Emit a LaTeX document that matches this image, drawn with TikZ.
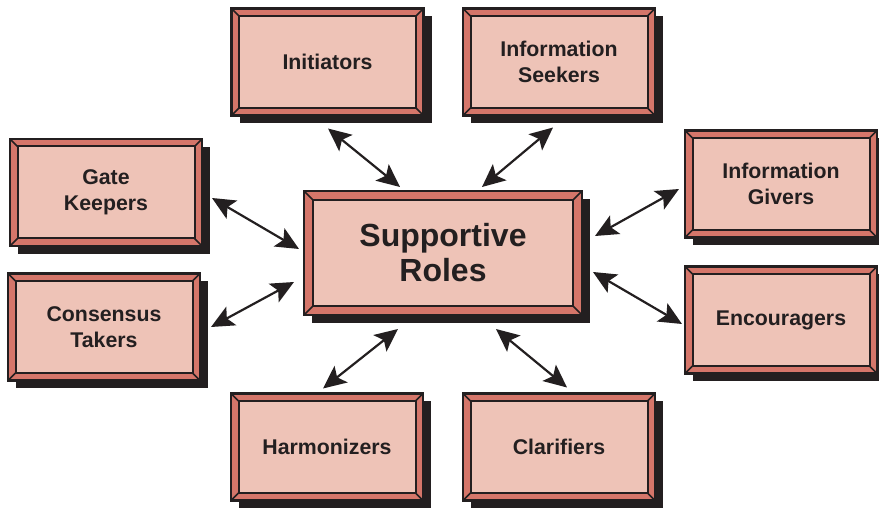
\documentclass[tikz,border=0pt]{standalone}
\usepackage{fontspec}
\setmainfont{Liberation Sans}
\usetikzlibrary{arrows.meta,calc,backgrounds}
\definecolor{bevel}{HTML}{D5766A}
\definecolor{face}{HTML}{EEC3B7}
\definecolor{ink}{HTML}{231F20}
\newcommand\bevw{7.5pt}
\tikzset{
  bevwidth/.code={\renewcommand\bevw{#1}},
  role/.style={rectangle, draw=ink, fill=bevel, line width=2.2pt, outer sep=0pt,
    inner sep=0pt, minimum width=192pt, minimum height=107pt, align=center,
    text=ink, font=\bfseries\fontsize{21.3}{25.5}\selectfont,
    path picture={
      \path[fill=face, draw=ink, line width=2pt]
        ([shift={(\bevw,\bevw)}]path picture bounding box.south west) rectangle
        ([shift={(-\bevw,-\bevw)}]path picture bounding box.north east);
      \draw[ink, line width=1.6pt]
        (path picture bounding box.south west) -- ++(\bevw,\bevw)
        (path picture bounding box.south east) -- ++(-\bevw,\bevw)
        (path picture bounding box.north west) -- ++(\bevw,-\bevw)
        (path picture bounding box.north east) -- ++(-\bevw,-\bevw);
    }},
  hub/.style={role, minimum width=278pt, minimum height=124pt, bevwidth=9pt,
    font=\bfseries\fontsize{32}{35}\selectfont},
  shadowbox/.style={fill=ink},
  arr/.style={{Stealth[length=23pt,width=21pt,inset=5pt]}-{Stealth[length=23pt,width=21pt,inset=5pt]},
    line width=2.2pt, draw=ink},
}
\begin{document}
\begin{tikzpicture}[x=1pt,y=-1pt]
\useasboundingbox (0,0) rectangle (879,510);
\node[role] (init) at (327.5,62) {Initiators};
\node[role] (seek) at (559,62) {Information\\Seekers};
\node[role] (gate) at (106,192.5) {Gate\\Keepers};
\node[role] (cons) at (104,327) {Consensus\\Takers};
\node[role] (givers) at (781,184) {Information\\Givers};
\node[role] (enc) at (781,320) {Encouragers};
\node[role] (harm) at (327,447) {Harmonizers};
\node[role] (clar) at (559,447) {Clarifiers};
\node[hub] (sup) at (443,253) {Supportive\\Roles};
\begin{scope}[on background layer]
  \foreach \n in {init,seek,gate,cons,givers,enc,harm,clar,sup}
    \fill[shadowbox] ([shift={(8pt,-8pt)}]\n.south west) rectangle ([shift={(8pt,-8pt)}]\n.north east);
\end{scope}
\draw[arr] ($(init.south)+(0.5,13)$) -- ($(sup.north)+(-43,-4)$);
\draw[arr] ($(seek.south)+(-6,12)$) -- ($(sup.north)+(39,-4)$);
\draw[arr] ($(gate.east)+(10,5.5)$) -- ($(sup.west)+(-5,-4)$);
\draw[arr] ($(cons.east)+(11,0)$) -- ($(sup.west)+(-10,29)$);
\draw[arr] ($(givers.west)+(-6,5)$) -- ($(sup.east)+(13,-17)$);
\draw[arr] ($(enc.west)+(-3,4)$) -- ($(sup.east)+(11,19)$);
\draw[arr] ($(harm.north)+(-4,-5)$) -- ($(sup.south)+(-45,14)$);
\draw[arr] ($(clar.north)+(8,-6)$) -- ($(sup.south)+(53,14)$);
\end{tikzpicture}
\end{document}
